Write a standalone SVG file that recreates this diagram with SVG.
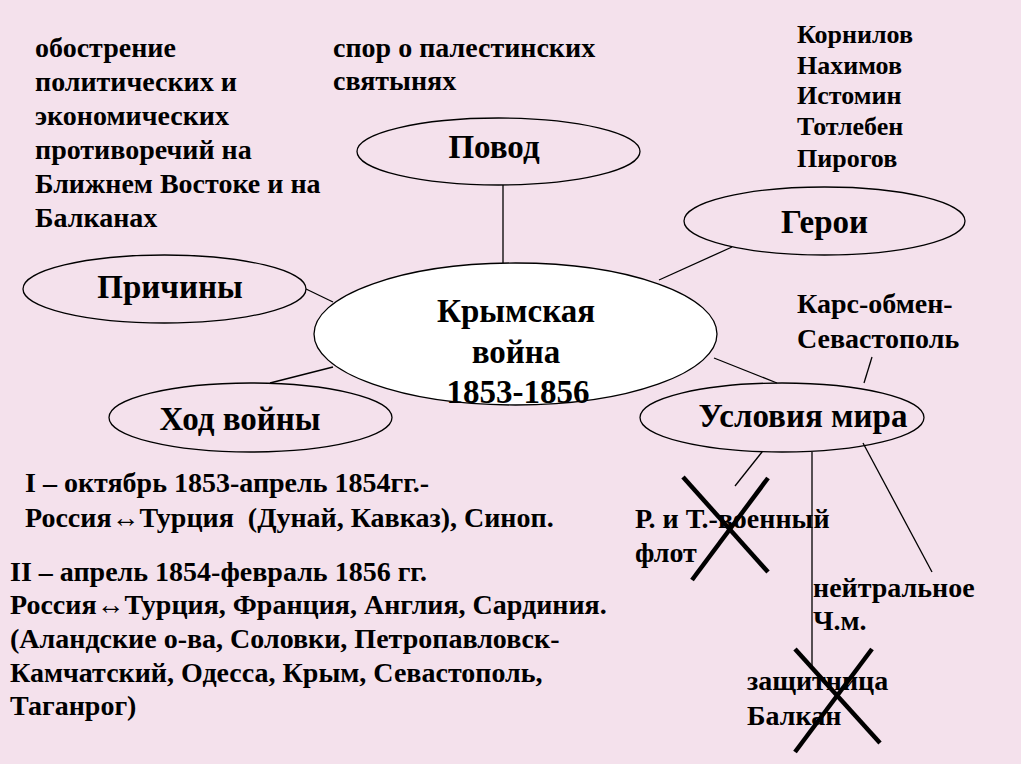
<svg xmlns="http://www.w3.org/2000/svg" width="1024" height="767" viewBox="0 0 1024 767">
<rect x="0" y="0" width="1024" height="767" fill="#ffffff"/>
<rect x="0" y="0" width="1021" height="764" fill="#f4e1ec"/>

<g id="connectors" stroke="#000" stroke-width="1.3" fill="none">
  <line x1="503" y1="185" x2="503" y2="263"/>
  <line x1="306" y1="289" x2="333" y2="302"/>
  <line x1="270" y1="383" x2="333" y2="367"/>
  <line x1="659" y1="280" x2="732" y2="247"/>
  <line x1="714" y1="358" x2="777" y2="383"/>
  <line x1="872" y1="357" x2="864" y2="383"/>
  <line x1="762" y1="452" x2="735" y2="486"/>
  <line x1="812" y1="452" x2="812" y2="667"/>
  <line x1="863" y1="443" x2="932" y2="572"/>
</g>

<g id="node-center" font-weight="bold" font-size="33" text-anchor="middle">
  <ellipse cx="515.5" cy="334" rx="201.5" ry="71" fill="#ffffff" stroke="#000" stroke-width="1.3"/>
  <text x="516" y="322" style="font-family:'Liberation Serif'">Крымская</text>
  <text x="516" y="363" style="font-family:'Liberation Serif'">война</text>
  <text x="518" y="403" style="font-family:'Liberation Serif'">1853-1856</text>
</g>

<g id="node-povod" font-weight="bold" font-size="33" text-anchor="middle">
  <ellipse cx="498.5" cy="151.5" rx="141.5" ry="33.5" fill="none" stroke="#000" stroke-width="1.3"/>
  <text x="494" y="158" style="font-family:'Liberation Serif'">Повод</text>
</g>

<g id="node-geroi" font-weight="bold" font-size="33" text-anchor="middle">
  <ellipse cx="824.5" cy="221" rx="140.5" ry="34" fill="none" stroke="#000" stroke-width="1.3"/>
  <text x="824.5" y="233" style="font-family:'Liberation Serif'">Герои</text>
</g>

<g id="node-prichiny" font-weight="bold" font-size="33" text-anchor="middle">
  <ellipse cx="164.5" cy="289" rx="141.5" ry="34" fill="none" stroke="#000" stroke-width="1.3"/>
  <text x="170" y="298" style="font-family:'Liberation Serif'">Причины</text>
</g>

<g id="node-hod" font-weight="bold" font-size="33" text-anchor="middle">
  <ellipse cx="250.5" cy="417.5" rx="141.5" ry="34.5" fill="none" stroke="#000" stroke-width="1.3"/>
  <text x="240" y="430" style="font-family:'Liberation Serif'">Ход войны</text>
</g>

<g id="node-usloviya" font-weight="bold" font-size="33" text-anchor="middle">
  <ellipse cx="782" cy="417.5" rx="142" ry="34.5" fill="none" stroke="#000" stroke-width="1.3"/>
  <text x="803" y="427" style="font-family:'Liberation Serif'">Условия мира</text>
</g>

<g id="text-causes" font-weight="bold" font-size="28">
  <text x="35" y="57" style="font-family:'Liberation Serif'">обострение</text>
  <text x="35" y="91" style="font-family:'Liberation Serif'">политических и</text>
  <text x="35" y="125" style="font-family:'Liberation Serif'">экономических</text>
  <text x="35" y="159" style="font-family:'Liberation Serif'">противоречий на</text>
  <text x="35" y="193" style="font-family:'Liberation Serif'">Ближнем Востоке и на</text>
  <text x="35" y="227" style="font-family:'Liberation Serif'">Балканах</text>
</g>

<g id="text-povod" font-weight="bold" font-size="28">
  <text x="333" y="57" style="font-family:'Liberation Serif'">спор о палестинских</text>
  <text x="333" y="90" style="font-family:'Liberation Serif'">святынях</text>
</g>

<g id="text-heroes" font-weight="bold" font-size="26">
  <text x="797" y="43" style="font-family:'Liberation Serif'">Корнилов</text>
  <text x="797" y="74" style="font-family:'Liberation Serif'">Нахимов</text>
  <text x="797" y="104" style="font-family:'Liberation Serif'">Истомин</text>
  <text x="797" y="135" style="font-family:'Liberation Serif'">Тотлебен</text>
  <text x="797" y="167" style="font-family:'Liberation Serif'">Пирогов</text>
</g>

<g id="text-kars" font-weight="bold" font-size="28">
  <text x="797" y="313" style="font-family:'Liberation Serif'">Карс-обмен-</text>
  <text x="797" y="348" style="font-family:'Liberation Serif'">Севастополь</text>
</g>

<g id="text-fleet" font-weight="bold" font-size="28">
  <text x="635" y="528" style="font-family:'Liberation Serif'">Р. и Т.-военный</text>
  <text x="635" y="562" style="font-family:'Liberation Serif'">флот</text>
</g>

<g id="text-neutral" font-weight="bold" font-size="28">
  <text x="813" y="597" style="font-family:'Liberation Serif'">нейтральное</text>
  <text x="813" y="630" style="font-family:'Liberation Serif'">Ч.м.</text>
</g>

<g id="text-balkans" font-weight="bold" font-size="28">
  <text x="747" y="690" style="font-family:'Liberation Serif'">защитница</text>
  <text x="747" y="725" style="font-family:'Liberation Serif'">Балкан</text>
</g>

<g id="text-course" font-weight="bold" font-size="28">
  <text x="25" y="492" style="font-family:'Liberation Serif'">I – октябрь 1853-апрель 1854гг.-</text>
  <text x="25" y="527" style="font-family:'Liberation Serif'">Россия↔Турция <tspan dx="7">(Дунай, Кавказ), Синоп.</tspan></text>
  <text x="10" y="581" style="font-family:'Liberation Serif'">II – апрель 1854-февраль 1856 гг.</text>
  <text x="10" y="614" style="font-family:'Liberation Serif'">Россия↔Турция, Франция, Англия, Сардиния.</text>
  <text x="10" y="648" style="font-family:'Liberation Serif'">(Аландские о-ва, Соловки, Петропавловск-</text>
  <text x="10" y="682" style="font-family:'Liberation Serif'">Камчатский, Одесса, Крым, Севастополь,</text>
  <text x="10" y="715" style="font-family:'Liberation Serif'">Таганрог)</text>
</g>

<g id="crosses" stroke="#000" stroke-width="4.5">
  <line x1="683" y1="477" x2="768" y2="572"/>
  <line x1="768" y1="478" x2="692" y2="580"/>
  <line x1="795" y1="649" x2="880" y2="743"/>
  <line x1="872" y1="649" x2="795" y2="752"/>
</g>
</svg>
